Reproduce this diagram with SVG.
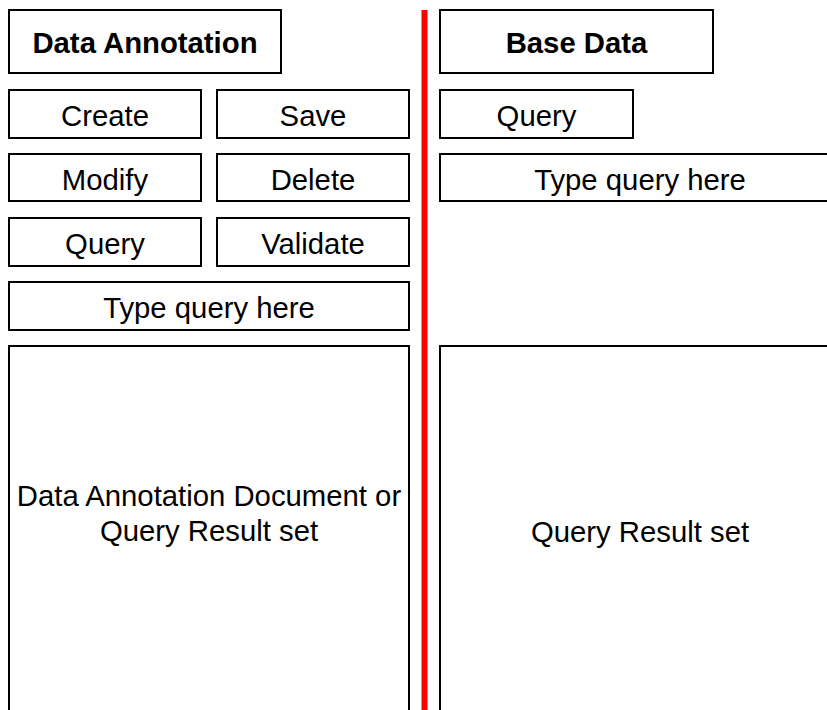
<svg xmlns="http://www.w3.org/2000/svg" width="827" height="710" viewBox="0 0 827 710">
<style>
.box{fill:#fff;stroke:#000;stroke-width:2}
.t{font-family:"Liberation Sans",Arial,Helvetica,sans-serif;font-size:29.3px;fill:#000;text-anchor:middle}
.b{font-weight:bold}
</style>
<rect width="827" height="710" fill="#fff"/>
<g id="connectors">
<line x1="424.5" y1="10" x2="424.5" y2="712" stroke="#ff0000" stroke-width="6"/>
</g>
<g id="data-annotation"><rect class="box" x="9" y="10" width="272" height="63"/><text class="t b" x="145" y="53">Data Annotation</text></g>
<g id="create"><rect class="box" x="9" y="90" width="192" height="48"/><text class="t" x="105" y="126">Create</text></g>
<g id="save"><rect class="box" x="217" y="90" width="192" height="48"/><text class="t" x="313" y="126">Save</text></g>
<g id="modify"><rect class="box" x="9" y="154" width="192" height="47"/><text class="t" x="105" y="190">Modify</text></g>
<g id="delete"><rect class="box" x="217" y="154" width="192" height="47"/><text class="t" x="313" y="190">Delete</text></g>
<g id="query-left"><rect class="box" x="9" y="218" width="192" height="48"/><text class="t" x="105" y="254">Query</text></g>
<g id="validate"><rect class="box" x="217" y="218" width="192" height="48"/><text class="t" x="313" y="254">Validate</text></g>
<g id="type-query-left"><rect class="box" x="9" y="282" width="400" height="48"/><text class="t" x="209" y="318">Type query here</text></g>
<g id="result-left"><rect class="box" x="9" y="346" width="400" height="380"/><text class="t" x="209" y="506">Data Annotation Document or</text><text class="t" x="209" y="541">Query Result set</text></g>
<g id="base-data"><rect class="box" x="440" y="10" width="273" height="63"/><text class="t b" x="576.5" y="53">Base Data</text></g>
<g id="query-right"><rect class="box" x="440" y="90" width="193" height="48"/><text class="t" x="536.5" y="126">Query</text></g>
<g id="type-query-right"><rect class="box" x="440" y="154" width="400" height="47"/><text class="t" x="640" y="190">Type query here</text></g>
<g id="result-right"><rect class="box" x="440" y="346" width="400" height="380"/><text class="t" x="640" y="542">Query Result set</text></g>
</svg>
